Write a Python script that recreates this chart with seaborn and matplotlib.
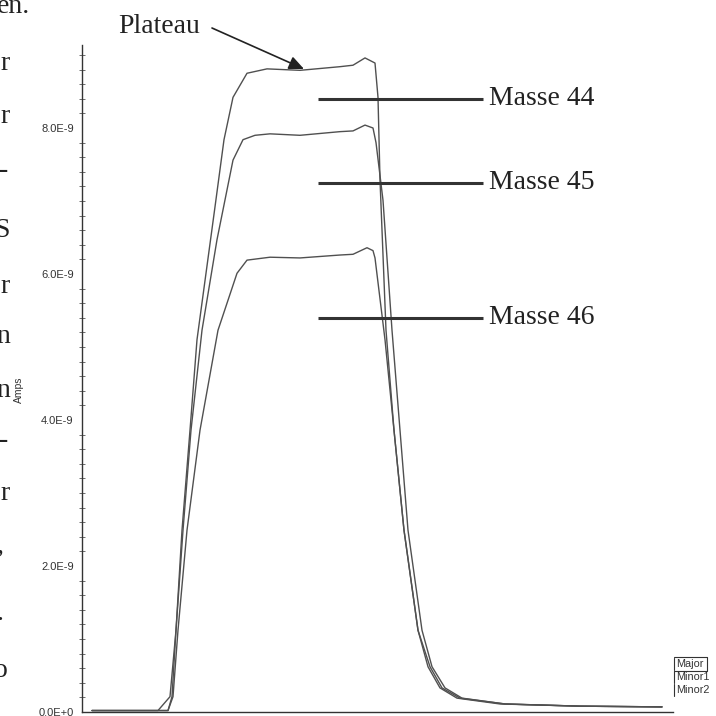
import matplotlib
matplotlib.use("Agg")
import matplotlib.pyplot as plt
from matplotlib.ticker import FuncFormatter, MultipleLocator
from matplotlib.lines import Line2D
import numpy as np
import pandas as pd
import seaborn as sns

# Ion current traces (time in s, current in 1e-9 A)
time_major = [10, 76, 88, 94, 100, 108, 115, 133, 142, 151, 165, 185, 218, 258,
              271, 283, 293, 296, 298, 304, 312, 322, 336, 346, 358, 375, 418, 498, 580]
amps_major = [0.02, 0.02, 0.21, 1.12, 2.49, 3.86, 5.10, 6.92, 7.84, 8.42, 8.75, 8.81, 8.79, 8.84,
              8.86, 8.96, 8.89, 8.42, 7.29, 5.23, 3.86, 2.49, 1.12, 0.62, 0.33, 0.19, 0.11, 0.08, 0.07]

time_minor1 = [10, 86, 90, 94, 101, 109, 120, 135, 151, 161, 173, 188, 218, 258,
               271, 283, 291, 294, 301, 310, 318, 326, 340, 350, 363, 380, 423, 498, 580]
amps_minor1 = [0.02, 0.02, 0.21, 1.12, 2.49, 3.86, 5.23, 6.47, 7.56, 7.84, 7.90, 7.92, 7.90, 7.95,
               7.96, 8.04, 8.00, 7.80, 7.01, 5.23, 3.86, 2.49, 1.12, 0.62, 0.33, 0.19, 0.11, 0.08, 0.07]

time_minor2 = [10, 86, 91, 96, 105, 118, 136, 155, 165, 188, 218, 258, 271, 285,
               291, 293, 303, 312, 322, 336, 348, 360, 378, 423, 498, 580]
amps_minor2 = [0.02, 0.02, 0.21, 1.12, 2.49, 3.86, 5.23, 6.01, 6.19, 6.23, 6.22, 6.26, 6.27, 6.36,
               6.32, 6.22, 5.10, 3.86, 2.49, 1.12, 0.62, 0.33, 0.19, 0.11, 0.08, 0.07]

series_names = ["Major", "Minor1", "Minor2"]
mass_labels = ["Masse 44", "Masse 45", "Masse 46"]
mass_marks = [8.40, 7.25, 5.40]   # level (1e-9 A) of each mass label bar
y_ticks = [0.0, 2.0, 4.0, 6.0, 8.0]

# fragments of the surrounding page text at the left margin
page_fragments = ["en.", "r", "r", "-", "S", "r", "n", "n", "-", "r", ",", ".", "o"]
page_baselines = [13, 70, 123, 177, 237, 293, 343, 397, 447, 500, 553, 620, 677]
page_right = [30, 10, 10, 8, 10, 10, 10, 10, 8, 10, 4, 3, 8]

frames = []
for name, t, a in [("Major", time_major, amps_major),
                   ("Minor1", time_minor1, amps_minor1),
                   ("Minor2", time_minor2, amps_minor2)]:
    frames.append(pd.DataFrame({"time": t, "amps": np.array(a) * 1e-9, "series": name}))
df = pd.concat(frames, ignore_index=True)

sns.set_style("white")
plt.rcParams["font.family"] = ["Liberation Sans", "DejaVu Sans"]

W = H = 716
fig = plt.figure(figsize=(W / 100, H / 100), dpi=100)
ax_left, ax_right, ax_bottom_px, ax_top_px = 82, 673, 712, 45
ax = fig.add_axes([ax_left / W, (H - ax_bottom_px) / H,
                   (ax_right - ax_left) / W, (ax_bottom_px - ax_top_px) / H])

line_col = "#505050"
sns.lineplot(data=df, x="time", y="amps", hue="series", palette=[line_col] * 3,
             legend=False, ax=ax, lw=1.0, sort=False, estimator=None)

ax.set_xlim(0, ax_right - ax_left)
ax.set_ylim(0, 9.137e-9)

for s in ["top", "right"]:
    ax.spines[s].set_visible(False)
for s in ["left", "bottom"]:
    ax.spines[s].set_color("#333333")
    ax.spines[s].set_linewidth(1.0)

def sci_fmt(v, pos):
    if abs(v) < 1e-15:
        return "0.0E+0"
    exp = int(np.floor(np.log10(abs(v))))
    return f"{v / 10**exp:.1f}E{exp}"

ax.set_yticks([v * 1e-9 for v in y_ticks])
ax.yaxis.set_major_formatter(FuncFormatter(sci_fmt))
ax.yaxis.set_minor_locator(MultipleLocator(0.2e-9))
ax.tick_params(axis="y", which="major", direction="out", length=5, width=0.8,
               colors="#333333", labelsize=8, pad=1)
ax.tick_params(axis="y", which="minor", direction="inout", length=4, width=0.6,
               colors="#555555", left=True)
ax.xaxis.set_major_locator(MultipleLocator(5))
ax.tick_params(axis="x", which="major", direction="out", length=4, width=0.6,
               colors="#555555", labelbottom=False)
ax.set_xlabel("")
ax.set_ylabel("")
fig.text(19 / W, 1 - 390 / H, "Amps", rotation=90, ha="center", va="center",
         fontsize=7.5, color="#333333")

# mass label bars and captions
serif = ["Liberation Serif", "DejaVu Serif"]
for lab, lvl in zip(mass_labels, mass_marks):
    ax.hlines(lvl * 1e-9, 318 - ax_left, 483 - ax_left, color="#333333", lw=2.2)
    ax.text(489 - ax_left, lvl * 1e-9, lab, ha="left", va="center",
            fontsize=20, family=serif, color="#222222")

# plateau callout
fig.text(118 / W, 1 - 33 / H, "Plateau", ha="left", va="baseline",
         fontsize=20, family=serif, color="#222222")
ax.annotate("", xy=(304 - ax_left, (ax_bottom_px - 69) / 73 * 1e-9), xycoords="data",
            xytext=(212, H - 28), textcoords="figure pixels",
            arrowprops=dict(arrowstyle="-|>,head_length=0.9,head_width=0.4",
                            lw=1.2, color="#222222", shrinkA=0, shrinkB=0))

# series legend block
leg_y = [664, 677, 690]
for name, yy in zip(series_names, leg_y):
    fig.text(676 / W, 1 - yy / H, name, ha="left", va="center",
             fontsize=7.8, color="#333333")
    fig.add_artist(Line2D([674 / W, 674 / W], [1 - (yy - 6) / H, 1 - (yy + 6) / H],
                          transform=fig.transFigure, color="#333333", lw=0.8))
fig.add_artist(Line2D([674 / W, 707 / W, 707 / W, 674 / W],
                      [1 - 657 / H, 1 - 657 / H, 1 - 671 / H, 1 - 671 / H],
                      transform=fig.transFigure, color="#333333", lw=0.8))

# page text running along the left margin
for s, yb, xr in zip(page_fragments, page_baselines, page_right):
    fig.text(xr / W, 1 - yb / H, s, ha="right", va="baseline",
             fontsize=20, family=serif, color="#222222")

fig.savefig("out.png", dpi=100, facecolor="white")
